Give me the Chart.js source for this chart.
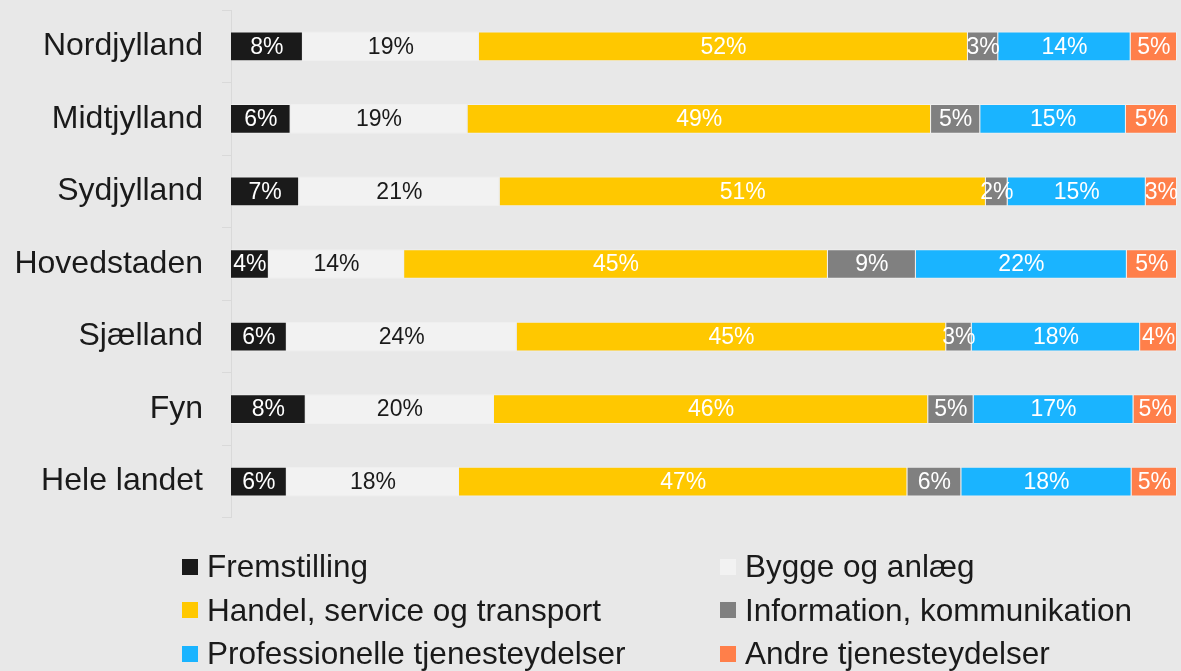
<!DOCTYPE html>
<html lang="da">
<head>
<meta charset="UTF-8">
<title>Brancher fordelt på landsdele</title>
<style>
  html, body { margin: 0; padding: 0; background: #e8e8e8; }
  body { position: relative; width: 1181px; height: 671px; overflow: hidden; font-family: "Liberation Sans", Arial, sans-serif; }
  .chart-container { position: absolute; left: 0; top: -28px; width: 1181px; height: 584px; }
  #legend { position: absolute; left: 182px; top: 550px; display: grid; grid-template-columns: 538px 460px; row-gap: 10.5px; }
  .item { display: flex; align-items: center; font-size: 31.5px; color: #1a1a1a; height: 33px; white-space: nowrap; }
  .box { width: 16px; height: 16px; margin-right: 9px; flex: none; }
</style>
</head>
<body>
<div class="chart-container">
  <canvas id="branchChart"></canvas>
</div>
<div id="legend"></div>
<script src="https://cdn.jsdelivr.net/npm/chart.js"></script>
<script>
  // landsdele
  const regions = ['Nordjylland', 'Midtjylland', 'Sydjylland', 'Hovedstaden', 'Sjælland', 'Fyn', 'Hele landet'];
  // andele i procent
  const fremstilling = [7.6, 6.3, 7.2, 4.0, 5.9, 7.9, 5.9];
  const bygge        = [18.6, 18.7, 21.2, 14.3, 24.3, 19.9, 18.2];
  const handel       = [51.7, 49.0, 51.4, 44.8, 45.4, 45.9, 47.4];
  const information  = [3.2, 5.2, 2.3, 9.3, 2.7, 4.8, 5.7];
  const profession   = [14.0, 15.4, 14.6, 22.3, 17.8, 16.9, 18.0];
  const andre        = [4.9, 5.4, 3.3, 5.3, 3.9, 4.6, 4.8];

  const series = [
    { label: 'Fremstilling', data: fremstilling, color: '#1a1a1a', text: '#ffffff' },
    { label: 'Bygge og anlæg', data: bygge, color: '#f2f2f2', text: '#1a1a1a' },
    { label: 'Handel, service og transport', data: handel, color: '#ffc800', text: '#ffffff' },
    { label: 'Information, kommunikation', data: information, color: '#808080', text: '#ffffff' },
    { label: 'Professionelle tjenesteydelser', data: profession, color: '#1ab4ff', text: '#ffffff' },
    { label: 'Andre tjenesteydelser', data: andre, color: '#ff7f4a', text: '#ffffff' }
  ];

  // procenttal midt i hvert segment
  const barLabels = {
    id: 'barLabels',
    afterDatasetsDraw(chart) {
      const ctx = chart.ctx;
      ctx.save();
      ctx.font = '23px "Liberation Sans", Arial, sans-serif';
      ctx.textAlign = 'center';
      ctx.textBaseline = 'middle';
      chart.data.datasets.forEach((ds, i) => {
        chart.getDatasetMeta(i).data.forEach((bar, j) => {
          const x = (bar.x + bar.base) / 2;
          ctx.fillStyle = series[i].text;
          ctx.fillText(Math.round(ds.data[j]) + '%', x, bar.y + 1);
        });
      });
      ctx.restore();
    }
  };

  const config = {
    type: 'bar',
    data: {
      labels: regions,
      datasets: series.map(s => ({
        label: s.label,
        data: s.data,
        backgroundColor: s.color,
        borderColor: 'rgba(255,255,255,0.35)',
        borderWidth: 1,
        barPercentage: 0.82,
        categoryPercentage: 0.5
      }))
    },
    options: {
      indexAxis: 'y',
      responsive: true,
      maintainAspectRatio: false,
      animation: false,
      layout: { padding: { top: 10, bottom: 13, right: 4, left: 0 } },
      plugins: {
        legend: { display: false },
        tooltip: { enabled: false }
      },
      scales: {
        x: { stacked: true, display: false, min: 0, max: 100 },
        y: {
          stacked: true,
          afterFit(scale) { scale.width = 231; },
          border: { display: true, color: '#d9d9d9', width: 1 },
          grid: { offset: true, drawOnChartArea: false, tickLength: 9, color: '#d9d9d9' },
          ticks: {
            color: '#1a1a1a',
            padding: 19,
            font: { size: 32, family: '"Liberation Sans", Arial, sans-serif' }
          }
        }
      }
    },
    plugins: [barLabels]
  };

  const ctx = document.querySelector('#branchChart');
  const branchChart = new Chart(ctx, config);

  // forklaring i to kolonner
  const legend = document.querySelector('#legend');
  series.forEach(s => {
    const item = document.createElement('div');
    item.className = 'item';
    const box = document.createElement('span');
    box.className = 'box';
    box.style.background = s.color;
    item.appendChild(box);
    item.appendChild(document.createTextNode(s.label));
    legend.appendChild(item);
  });
</script>
</body>
</html>
